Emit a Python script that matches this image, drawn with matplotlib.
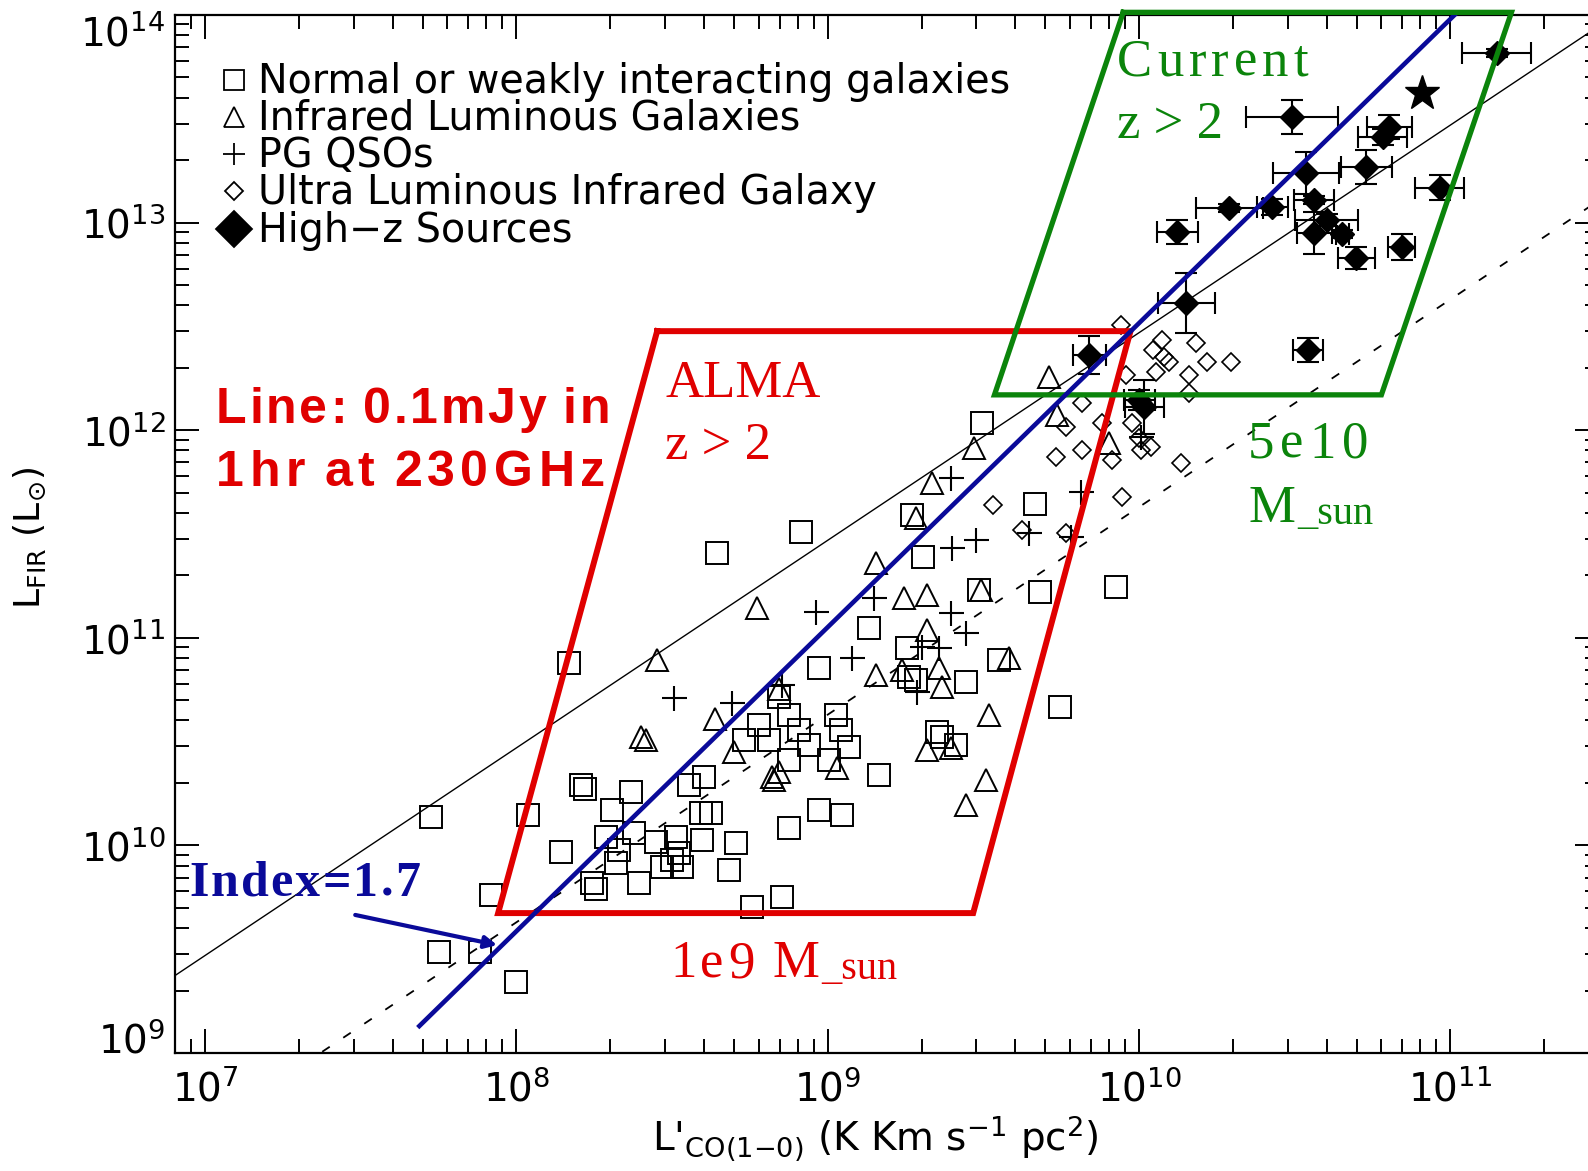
import numpy as np
import matplotlib
matplotlib.use("Agg")
import matplotlib.pyplot as plt
from matplotlib.lines import Line2D
from matplotlib.ticker import LogLocator, NullFormatter

# ---------------- data: log10 values ----------------
# Normal or weakly interacting galaxies (open squares)
normal_logL = [9.496, 9.272, 9.307, 9.667, 8.915, 8.645, 9.133, 9.680, 9.927, 9.487,
               8.169, 9.255, 8.973, 9.551, 9.262, 9.284, 9.445, 9.747, 9.352, 9.368,
               9.413, 9.027, 9.043, 9.069, 8.844, 8.876, 8.908, 8.812, 8.780, 8.732,
               8.941, 8.876, 9.005, 9.165, 8.973, 9.047, 8.876, 8.854, 8.757,
               7.726, 8.038, 8.208, 8.221, 8.144, 7.919, 8.369, 8.308, 8.555, 8.603,
               8.594, 8.626, 8.288, 8.378, 8.330, 8.449, 8.513, 8.523, 8.500, 8.532,
               8.597, 8.706, 8.684, 8.394, 8.243, 8.256, 8.320, 8.468, 7.752, 7.883, 7.999]
normal_logF = [12.035, 11.591, 11.389, 11.644, 11.510, 11.408, 11.047, 11.221, 11.245, 11.230,
               10.879, 10.951, 10.855, 10.893, 10.811, 10.797, 10.787, 10.667, 10.546, 10.522,
               10.484, 10.628, 10.556, 10.474, 10.715, 10.628, 10.556, 10.508, 10.580, 10.508,
               10.484, 10.411, 10.411, 10.339, 10.170, 10.146, 10.084, 9.751, 9.703,
               10.137, 10.146, 10.291, 10.272, 9.968, 9.761, 10.257, 10.170, 10.291, 10.329,
               10.156, 10.156, 10.040, 10.060, 9.978, 10.016, 10.040, 9.963, 9.930, 9.896,
               10.026, 10.011, 9.881, 9.819, 9.819, 9.790, 9.915, 9.896, 9.486, 9.486, 9.342]

# Infrared luminous galaxies (open triangles)
lirg_logL = [9.712, 9.737, 9.471, 9.904, 9.336, 9.284, 9.156, 8.774, 9.246, 9.320, 9.493,
             8.452, 9.320, 9.583, 9.156, 9.239, 9.358, 9.368, 9.519, 8.638, 8.401, 8.417,
             8.700, 8.822, 8.844, 8.828, 9.031, 9.320, 9.397, 9.509, 9.445, 8.844]
lirg_logF = [12.256, 12.073, 11.914, 11.938, 11.746, 11.577, 11.360, 11.144, 11.192, 11.206, 11.230,
             10.893, 11.038, 10.903, 10.821, 10.845, 10.855, 10.763, 10.628, 10.609, 10.522, 10.508,
             10.450, 10.329, 10.353, 10.315, 10.373, 10.460, 10.469, 10.315, 10.195, 10.753]

# PG QSOs (plus)
pg_logL = [9.397, 9.814, 9.400, 9.477, 9.647, 9.782, 9.149, 8.963, 9.397, 9.445,
           9.079, 9.304, 9.358, 9.288, 8.507, 8.693, 8.854, 10.007]
pg_logF = [11.770, 11.702, 11.433, 11.471, 11.505, 11.485, 11.192, 11.124, 11.119, 11.023,
           10.903, 10.956, 10.951, 10.739, 10.710, 10.686, 10.773, 11.967]

# Ultra luminous infrared galaxies (open diamonds)
ulirg_logL = [9.943, 10.072, 10.184, 10.043, 10.081, 10.097, 10.055, 10.219, 10.296, 10.161,
              10.161, 9.959, 9.818, 9.882, 9.978, 9.766, 10.007, 10.039, 9.818, 9.734,
              9.914, 10.136, 9.529, 9.946, 9.625, 9.766, 10.001]
ulirg_logF = [12.507, 12.434, 12.420, 12.386, 12.353, 12.329, 12.280, 12.329, 12.329, 12.266,
              12.179, 12.266, 12.131, 12.035, 12.035, 12.015, 11.905, 11.919, 11.905, 11.871,
              11.856, 11.842, 11.640, 11.678, 11.519, 11.505, 11.962]

# High-z sources (filled diamonds with error bars, errors in dex)
hiz_logL = [10.492, 11.148, 10.804, 10.782, 10.537, 10.730, 10.965, 10.290, 10.428, 10.563,
            10.123, 10.602, 10.563, 10.653, 10.698, 10.843, 10.152, 10.541, 9.840, 10.017, 10.001]
hiz_logF = [13.509, 13.817, 13.460, 13.412, 13.239, 13.268, 13.167, 13.070, 13.075, 13.109,
            12.955, 13.013, 12.950, 12.945, 12.829, 12.882, 12.613, 12.386, 12.362, 12.112, 12.145]
hiz_dL = [0.148, 0.112, 0.072, 0.080, 0.106, 0.082, 0.079, 0.107, 0.050, 0.064,
          0.066, 0.102, 0.056, 0.020, 0.059, 0.043, 0.091, 0.048, 0.054, 0.064, 0.050]
hiz_dF = [0.080, 0.020, 0.056, 0.040, 0.101, 0.084, 0.060, 0.020, 0.040, 0.020,
          0.056, 0.030, 0.100, 0.020, 0.052, 0.064, 0.145, 0.056, 0.092, 0.130, 0.050]
star_logL = [10.907]
star_logF = [13.624]

# relations: log L_FIR = log L'CO + offset (slope 1)
solid_offset = 2.47
dashed_offset = 1.63

# annotation shapes (data units)
alma_box_L = [2.83e8, 9.38e9, 2.93e9, 8.73e7]
alma_box_F = [3.0e12, 3.0e12, 4.72e9, 4.72e9]
current_box_L = [8.89e9, 1.57e11, 6.0e10, 3.43e9]
current_box_F = [1.03e14, 1.03e14, 1.48e12, 1.48e12]
index_line_L = [10**7.688, 10**11.013]
index_line_F = [10**9.130, 10**14.0]
arrow_from = (10**7.482, 10**9.665)
arrow_to = (10**7.938, 10**9.520)

xlim = (8e6, 3e11)
ylim = (1e9, 1e14)

# ---------------- figure ----------------
W, H, DPI = 1588, 1171, 100
RED = "#E00000"
GREEN = "#0B840B"
NAVY = "#0A0A99"
SERIF = ["Liberation Serif", "DejaVu Serif"]
ARIAL = ["Liberation Sans", "DejaVu Sans"]

plt.rcParams["font.family"] = ["DejaVu Sans"]
fig = plt.figure(figsize=(W / DPI, H / DPI), dpi=DPI)
L_, R_, T_, B_ = 175, 1599, 15, 1053
ax = fig.add_axes([L_ / W, 1 - B_ / H, (R_ - L_) / W, (B_ - T_) / H])
ax.set_xscale("log")
ax.set_yscale("log")
ax.set_xlim(*xlim)
ax.set_ylim(*ylim)

for s in ax.spines.values():
    s.set_linewidth(1.6)

ax.xaxis.set_major_locator(LogLocator(base=10, numticks=20))
ax.yaxis.set_major_locator(LogLocator(base=10, numticks=20))
ax.xaxis.set_minor_locator(LogLocator(base=10, subs=np.arange(2, 10), numticks=100))
ax.yaxis.set_minor_locator(LogLocator(base=10, subs=np.arange(2, 10), numticks=100))
ax.xaxis.set_minor_formatter(NullFormatter())
ax.yaxis.set_minor_formatter(NullFormatter())
ax.tick_params(which="both", direction="in", top=True, right=True, width=1.4)
ax.tick_params(which="major", length=17, labelsize=28)
ax.tick_params(which="minor", length=10)
ax.tick_params(axis="x", which="major", pad=12)
ax.tick_params(axis="y", which="major", pad=7)

# relations
xx = np.logspace(np.log10(xlim[0]), np.log10(xlim[1]), 200)
ax.plot(xx, xx * 10**solid_offset, color="black", lw=1.0, zorder=2)
ax.plot(xx, xx * 10**dashed_offset, color="black", lw=1.3, ls=(0, (5, 9)), zorder=2)

to_lin = lambda a: 10 ** np.asarray(a)

ax.plot(to_lin(normal_logL), to_lin(normal_logF), ls="none", marker="s", ms=16,
        mfc="none", mec="black", mew=1.4, zorder=3)
ax.plot(to_lin(lirg_logL), to_lin(lirg_logF), ls="none", marker="^", ms=16,
        mfc="none", mec="black", mew=1.4, zorder=3)
ax.plot(to_lin(pg_logL), to_lin(pg_logF), ls="none", marker="+", ms=18,
        mec="black", mew=1.5, zorder=3)
ax.plot(to_lin(ulirg_logL), to_lin(ulirg_logF), ls="none", marker="D", ms=9.5,
        mfc="none", mec="black", mew=1.2, zorder=3)

hx = to_lin(hiz_logL)
hy = to_lin(hiz_logF)
xerr = [hx - hx / 10**np.asarray(hiz_dL), hx * 10**np.asarray(hiz_dL) - hx]
yerr = [hy - hy / 10**np.asarray(hiz_dF), hy * 10**np.asarray(hiz_dF) - hy]
ax.errorbar(hx, hy, xerr=xerr, yerr=yerr, fmt="D", ms=12, mfc="black", mec="black",
            ecolor="black", elinewidth=1.5, capsize=8, capthick=1.5, zorder=4)
ax.plot(to_lin(star_logL), to_lin(star_logF), ls="none", marker="*", ms=26,
        color="black", zorder=4)

# annotation shapes
ax.plot(alma_box_L + alma_box_L[:1], alma_box_F + alma_box_F[:1], color=RED, lw=4.3,
        solid_joinstyle="miter", zorder=6)
ax.plot(current_box_L + current_box_L[:1], current_box_F + current_box_F[:1], color=GREEN,
        lw=3.8, solid_joinstyle="miter", zorder=6, clip_on=False)
ax.plot(index_line_L, index_line_F, color=NAVY, lw=3.3, zorder=7)
ax.annotate("", xy=arrow_to, xytext=arrow_from,
            arrowprops=dict(arrowstyle="-|>", color=NAVY, lw=3, mutation_scale=18,
                            shrinkA=0, shrinkB=0), zorder=7)

# axis labels
fig.text(30 / W, 1 - 538 / H, r"L$_{\rm FIR}$ (L$_{\odot}$)", rotation=90,
         ha="center", va="center", fontsize=26)
fig.text(875 / W, 1 - 1152 / H, r"L'$_{\rm CO(1{-}0)}$ (K Km s$^{-1}$ pc$^{2}$)",
         ha="center", va="baseline", fontsize=28)

# legend (drawn by hand, like the original)
leg_rows = [
    ("s", 14, "none", "Normal or weakly interacting galaxies", 80),
    ("^", 14, "none", "Infrared Luminous Galaxies", 117),
    ("+", 16, "none", "PG QSOs", 154),
    ("D", 9.5, "none", "Ultra Luminous Infrared Galaxy", 191),
    ("D", 18, "black", "High\u2212z Sources", 229),
]
for mk, ms, fc, label, yc in leg_rows:
    fig.add_artist(Line2D([234 / W], [1 - yc / H], transform=fig.transFigure, marker=mk,
                          ms=ms, mfc=fc, mec="black", mew=1.3, ls="none"))
    fig.text(258 / W, 1 - (yc + 13) / H, label, ha="left", va="baseline", fontsize=28.5)


def tracked(x_px, base_px, s, track_px, space_px=0, **kw):
    """Letter-spaced text: each glyph placed after the previous one."""
    t = fig.text(x_px / W, 1 - base_px / H, s[0], ha="left", va="baseline", **kw)
    prev = t
    extra = 0
    for ch in s[1:]:
        if ch == " ":
            extra += space_px
            continue
        prev = ax.annotate(ch, xy=(1, 0), xycoords=prev, xytext=(track_px + extra, 0),
                           textcoords="offset pixels", ha="left", va="bottom",
                           annotation_clip=False, **kw)
        extra = 0
    return prev


# green annotations
tracked(1117, 76, "Current", 5, family=SERIF, fontsize=38, color=GREEN)
fig.text(1117 / W, 1 - 138 / H, "z > 2", family=SERIF, fontsize=38, color=GREEN,
         ha="left", va="baseline")
tracked(1248, 458, "5e10", 6, family=SERIF, fontsize=38, color=GREEN)
tm = fig.text(1248 / W, 1 - 522 / H, "M", family=SERIF, fontsize=38, color=GREEN,
              ha="left", va="baseline")
ax.annotate("_sun", xy=(1, 0), xycoords=tm, xytext=(2, 0), textcoords="offset pixels",
            ha="left", va="bottom", family=SERIF, fontsize=29, color=GREEN,
            annotation_clip=False)

# red annotations
fig.text(665 / W, 1 - 397 / H, "ALMA", family=SERIF, fontsize=38, color=RED,
         ha="left", va="baseline")
fig.text(665 / W, 1 - 459 / H, "z > 2", family=SERIF, fontsize=38, color=RED,
         ha="left", va="baseline")
last = tracked(670, 977, "1e9", 4, family=SERIF, fontsize=38, color=RED)
tm2 = ax.annotate("M", xy=(1, 0), xycoords=last, xytext=(18, 0), textcoords="offset pixels",
                  ha="left", va="bottom", family=SERIF, fontsize=38, color=RED,
                  annotation_clip=False)
ax.annotate("_sun", xy=(1, 0), xycoords=tm2, xytext=(2, 0), textcoords="offset pixels",
            ha="left", va="bottom", family=SERIF, fontsize=29, color=RED,
            annotation_clip=False)
tracked(216, 423, "Line: 0.1mJy in", 2.7, space_px=14, family=ARIAL, fontweight="bold",
        fontsize=36, color=RED)
tracked(216, 486, "1hr at 230GHz", 5.5, space_px=14, family=ARIAL, fontweight="bold",
        fontsize=36, color=RED)

# navy annotation
tracked(189, 896, "Index=1.7", 2.2, family=SERIF, fontweight="bold", fontsize=36, color=NAVY)

# keep the end labels of the y axis inside the frame, as in the original
fig.canvas.draw()
for lab in ax.get_yticklabels():
    txt = lab.get_text()
    if "{14}" in txt:
        lab.set_va("top")
    elif "{9}" in txt:
        lab.set_va("baseline")

fig.savefig("out.png", dpi=DPI)
